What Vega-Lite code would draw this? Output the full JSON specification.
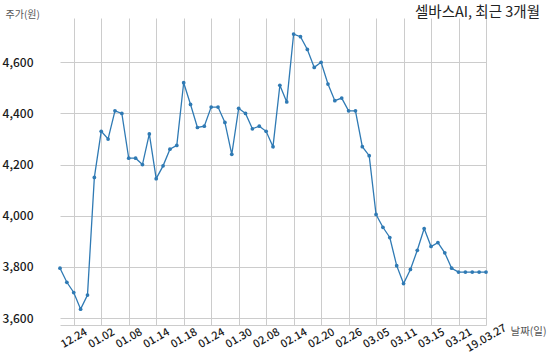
{
  "$schema": "https://vega.github.io/schema/vega-lite/v6.json",
  "width": 472,
  "height": 307,
  "autosize": "none",
  "padding": {"left": 37, "top": 18, "right": 41, "bottom": 35},
  "background": "white",
  "config": {"view": {"stroke": null}, "font": "Noto Sans CJK KR"},
  "title": {
    "text": "셀바스AI, 최근 3개월",
    "anchor": "end",
    "frame": "group",
    "dx": 31,
    "dy": 27,
    "offset": 2,
    "baseline": "bottom",
    "fontSize": 14.5,
    "fontWeight": "normal",
    "color": "#222222",
    "font": "Noto Sans CJK KR"
  },
  "data": {
    "values": [
      {"d": "12.20", "v": 3795}, {"d": "12.21", "v": 3740}, {"d": "12.24", "v": 3700},
      {"d": "12.26", "v": 3635}, {"d": "12.27", "v": 3690}, {"d": "12.28", "v": 4150},
      {"d": "01.02", "v": 4330}, {"d": "01.03", "v": 4300}, {"d": "01.04", "v": 4410},
      {"d": "01.07", "v": 4400}, {"d": "01.08", "v": 4225}, {"d": "01.09", "v": 4225},
      {"d": "01.10", "v": 4200}, {"d": "01.11", "v": 4320}, {"d": "01.14", "v": 4145},
      {"d": "01.15", "v": 4195}, {"d": "01.16", "v": 4260}, {"d": "01.17", "v": 4275},
      {"d": "01.18", "v": 4520}, {"d": "01.21", "v": 4435}, {"d": "01.22", "v": 4345},
      {"d": "01.23", "v": 4350}, {"d": "01.24", "v": 4425}, {"d": "01.25", "v": 4425},
      {"d": "01.28", "v": 4365}, {"d": "01.29", "v": 4240}, {"d": "01.30", "v": 4420},
      {"d": "01.31", "v": 4400}, {"d": "02.01", "v": 4340}, {"d": "02.07", "v": 4350},
      {"d": "02.08", "v": 4330}, {"d": "02.11", "v": 4270}, {"d": "02.12", "v": 4510},
      {"d": "02.13", "v": 4445}, {"d": "02.14", "v": 4710}, {"d": "02.15", "v": 4700},
      {"d": "02.18", "v": 4650}, {"d": "02.19", "v": 4580}, {"d": "02.20", "v": 4600},
      {"d": "02.21", "v": 4515}, {"d": "02.22", "v": 4450}, {"d": "02.25", "v": 4460},
      {"d": "02.26", "v": 4410}, {"d": "02.27", "v": 4410}, {"d": "02.28", "v": 4270},
      {"d": "03.04", "v": 4235}, {"d": "03.05", "v": 4005}, {"d": "03.06", "v": 3955},
      {"d": "03.07", "v": 3915}, {"d": "03.08", "v": 3805}, {"d": "03.11", "v": 3735},
      {"d": "03.12", "v": 3790}, {"d": "03.13", "v": 3865}, {"d": "03.14", "v": 3950},
      {"d": "03.15", "v": 3880}, {"d": "03.18", "v": 3895}, {"d": "03.19", "v": 3855},
      {"d": "03.20", "v": 3795}, {"d": "03.21", "v": 3780}, {"d": "03.22", "v": 3780},
      {"d": "03.25", "v": 3780}, {"d": "03.26", "v": 3780}, {"d": "19.03.27", "v": 3780}
    ]
  },
  "mark": {
    "type": "line",
    "color": "#2f7ab4",
    "strokeWidth": 1.3,
    "point": {"filled": true, "size": 14, "color": "#2f7ab4"}
  },
  "encoding": {
    "x": {
      "field": "d",
      "type": "ordinal",
      "sort": null,
      "scale": {"type": "point", "padding": 0, "range": [23, 449]},
      "axis": {
        "values": ["12.24", "01.02", "01.08", "01.14", "01.18", "01.24", "01.30", "02.08", "02.14", "02.20", "02.26", "03.05", "03.11", "03.15", "03.21", "19.03.27"],
        "grid": true,
        "gridColor": "#cccccc",
        "gridOpacity": 1,
        "domain": false,
        "ticks": false,
        "tickSize": 0,
        "labelAngle": -30,
        "labelAlign": "center",
        "labelBaseline": "middle",
        "labelPadding": 13,
        "labelFontSize": 11,
        "labelFont": "Noto Sans CJK KR",
        "labelFontWeight": 500,
        "labelColor": "#1a1a1a",
        "title": "날짜(일)",
        "titleFont": "Noto Sans CJK KR",
        "titleFontSize": 10.5,
        "titleFontWeight": "normal",
        "titleColor": "#555555",
        "titleAngle": 0,
        "titleAlign": "left",
        "titleBaseline": "middle",
        "titleX": 473,
        "titleY": 6
      }
    },
    "y": {
      "field": "v",
      "type": "quantitative",
      "scale": {"domain": [3573, 4773], "nice": false, "zero": false},
      "axis": {
        "values": [3573, 3600, 3800, 4000, 4200, 4400, 4600],
        "labelExpr": "datum.value < 3590 ? '' : format(datum.value, ',d')",
        "grid": true,
        "gridColor": "#cccccc",
        "gridOpacity": 1,
        "domain": false,
        "ticks": false,
        "tickSize": 0,
        "labelPadding": 4,
        "labelFontSize": 12,
        "labelFont": "Noto Sans CJK KR",
        "labelFontWeight": 500,
        "labelColor": "#1a1a1a",
        "title": "주가(원)",
        "titleFont": "Noto Sans CJK KR",
        "titleFontSize": 10,
        "titleFontWeight": "normal",
        "titleColor": "#555555",
        "titleAngle": 0,
        "titleAlign": "left",
        "titleBaseline": "middle",
        "titleX": -32,
        "titleY": -4
      }
    }
  }
}
